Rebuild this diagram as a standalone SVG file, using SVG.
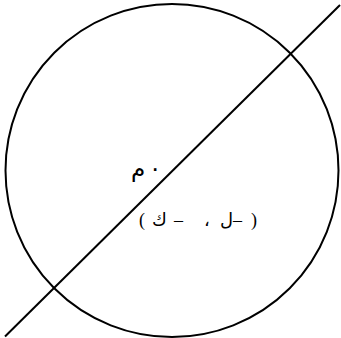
<svg xmlns="http://www.w3.org/2000/svg" width="341" height="338" viewBox="0 0 341 338">
<style>
.s{fill:none;stroke:#000;stroke-width:2}
.t{font-family:"Liberation Serif","DejaVu Sans",serif;fill:#000;direction:ltr;unicode-bidi:bidi-override}
</style>
<rect width="341" height="338" fill="#fff"/>
<g id="circle"><circle class="s" cx="172" cy="170.5" r="166.5"/></g>
<g id="connectors"><line class="s" x1="5" y1="336.5" x2="340" y2="5"/></g>
<g id="center-label"><text class="t" font-size="23"><tspan x="131" y="176">م</tspan><tspan x="149" y="176">٠</tspan></text></g>
<g id="coord-label"><text class="t" font-size="18"><tspan x="139" y="226">(</tspan><tspan x="152" y="226">ك</tspan><tspan x="174" y="226">–</tspan><tspan x="204" y="226">،</tspan><tspan x="220" y="226">ل–</tspan><tspan x="251" y="226">)</tspan></text></g>
</svg>
